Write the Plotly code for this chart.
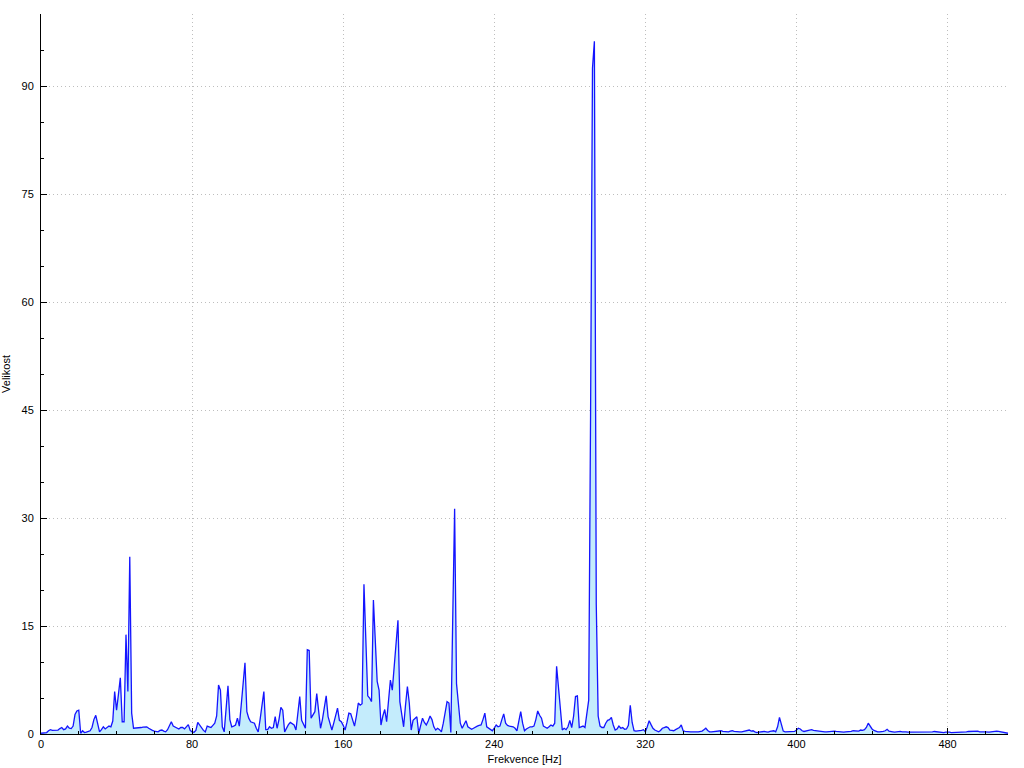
import plotly.graph_objects as go

# Magnitude spectrum, one value per 1 Hz bin (0 .. 512 Hz)
magnitude = [
    0.1, 0.1, 0.15, 0.2, 0.45, 0.6, 0.5, 0.5, 0.5, 0.55,
    0.75, 0.9, 0.6, 0.7, 1.1, 0.8, 0.75, 1.1, 2.7, 3.2,
    3.3, 0.1, 0.45, 0.2, 0.25, 0.3, 0.45, 0.9, 2.0, 2.6,
    1.4, 0.3, 0.6, 1.0, 0.7, 0.9, 1.1, 1.0, 1.8, 5.9,
    3.3, 5.5, 7.8, 1.7, 1.7, 13.8, 5.9, 24.6, 2.9, 0.8,
    0.8, 0.8, 0.9, 0.9, 0.95, 1.0, 1.0, 0.8, 0.6, 0.5,
    0.4, 0.35, 0.3, 0.5, 0.55, 0.4, 0.3, 0.6, 1.2, 1.7,
    1.1, 1.0, 0.8, 0.7, 0.9, 0.9, 0.7, 1.0, 1.3, 0.5,
    0.3, 0.25, 0.5, 1.6, 1.2, 0.8, 0.5, 0.3, 1.1, 1.0,
    0.9, 1.2, 1.5, 2.5, 6.8, 6.1, 1.0, 0.3, 3.2, 6.7,
    2.0, 1.0, 1.1, 1.25, 2.2, 1.1, 4.0, 7.0, 9.9, 3.1,
    2.2, 1.7, 1.6, 1.5, 0.8, 0.3, 2.0, 4.0, 5.9, 0.6,
    0.6, 1.0, 0.8, 0.9, 2.4, 0.8, 2.0, 3.7, 3.3, 0.3,
    0.9, 1.3, 1.6, 1.4, 1.25, 0.55, 2.8, 5.2, 1.9, 1.2,
    0.8, 11.7, 11.6, 2.2, 2.6, 3.1, 5.6, 3.0, 0.8, 2.0,
    3.8, 5.3, 2.4, 1.3, 0.55, 1.5, 2.6, 3.6, 1.9, 1.7,
    1.2, 0.55, 1.6, 2.9, 2.8, 1.8, 1.1, 2.5, 4.3, 4.0,
    4.2, 20.8, 13.0, 5.3, 5.0, 4.5, 18.6, 13.0, 7.3, 6.1,
    1.25, 2.5, 3.4, 1.7, 4.5, 7.5, 6.1, 9.3, 12.6, 15.8,
    4.5, 2.7, 1.0, 4.0, 6.6, 4.3, 0.55, 1.9, 2.2, 2.4,
    0.1, 1.0, 2.2, 1.6, 1.25, 1.8, 2.5, 2.0, 1.0, 0.55,
    0.8, 0.6, 0.3, 1.5, 3.0, 4.5, 4.3, 0.2, 16.0, 31.3,
    7.0, 3.9, 1.5, 0.8, 1.3, 1.85, 1.0, 0.8, 0.65, 0.8,
    1.0, 1.1, 1.2, 1.25, 2.0, 2.9, 1.0, 0.8, 0.65, 0.45,
    0.8, 1.25, 1.0, 1.1, 2.0, 2.8, 1.5, 1.2, 1.1, 1.1,
    1.0, 0.8, 0.45, 1.8, 3.1, 1.5, 0.45, 0.7, 0.9, 1.0,
    1.0, 1.1, 2.0, 3.2, 2.6, 2.2, 1.1, 0.9, 0.8, 1.0,
    1.25, 1.1, 1.5, 9.4, 6.3, 3.3, 0.55, 0.8, 0.6, 1.0,
    1.9, 0.9, 2.5, 5.2, 5.3, 0.9, 1.0, 1.1, 0.9, 2.5,
    4.7, 45.0, 92.5, 96.2, 18.0, 2.5, 1.1, 0.9, 0.9, 1.5,
    1.9, 2.0, 2.3, 1.25, 0.55, 0.7, 1.1, 0.8, 0.9, 0.65,
    0.7, 1.2, 4.0, 1.6, 0.45, 0.4, 0.4, 0.4, 0.5, 0.6,
    0.3, 1.0, 1.85, 1.3, 0.8, 0.55, 0.4, 0.3, 0.5, 0.8,
    0.9, 1.0, 0.9, 0.55, 0.5, 0.45, 0.6, 0.8, 0.9, 1.25,
    0.45, 0.35, 0.3, 0.3, 0.3, 0.3, 0.35, 0.3, 0.3, 0.3,
    0.4, 0.6, 0.8, 0.5, 0.3, 0.3, 0.35, 0.3, 0.35, 0.4,
    0.45, 0.35, 0.3, 0.25, 0.3, 0.4, 0.45, 0.35, 0.3, 0.25,
    0.3, 0.3, 0.35, 0.45, 0.5, 0.55, 0.4, 0.45, 0.3, 0.2,
    0.25, 0.3, 0.3, 0.35, 0.3, 0.25, 0.35, 0.4, 0.45, 0.3,
    1.0, 2.3, 1.5, 0.4, 0.3, 0.3, 0.25, 0.3, 0.3, 0.35,
    0.55, 0.8, 0.7, 0.45, 0.35, 0.4, 0.5, 0.6, 0.6, 0.5,
    0.45, 0.4, 0.35, 0.3, 0.3, 0.3, 0.3, 0.35, 0.35, 0.4,
    0.4, 0.35, 0.3, 0.3, 0.25, 0.25, 0.3, 0.3, 0.3, 0.35,
    0.45, 0.4, 0.35, 0.4, 0.55, 0.5, 0.6, 0.9, 1.5, 1.1,
    0.7, 0.5, 0.35, 0.3, 0.3, 0.3, 0.35, 0.45, 0.65, 0.4,
    0.3, 0.3, 0.25, 0.3, 0.35, 0.35, 0.3, 0.35, 0.3, 0.25,
    0.25, 0.2, 0.2, 0.25, 0.2, 0.2, 0.25, 0.3, 0.25, 0.2,
    0.2, 0.25, 0.3, 0.35, 0.3, 0.25, 0.3, 0.25, 0.2, 0.25,
    0.3, 0.25, 0.2, 0.2, 0.25, 0.25, 0.2, 0.25, 0.3, 0.25,
    0.3, 0.35, 0.35, 0.4, 0.45, 0.45, 0.4, 0.3, 0.25, 0.3,
    0.3, 0.25, 0.25, 0.3, 0.35, 0.4, 0.4, 0.35, 0.3, 0.25,
    0.2, 0.15, 0.1,
]
bin_width_hz = 1
frequency = [i * bin_width_hz for i in range(len(magnitude))]

x_ticks = [0, 80, 160, 240, 320, 400, 480]
y_ticks = [0, 15, 30, 45, 60, 75, 90]
x_title = "Frekvence [Hz]"
y_title = "Velikost"

FONT = "Liberation Sans"

fig = go.Figure()
fig.add_trace(go.Scatter(
    x=frequency, y=magnitude, mode="lines",
    line=dict(color="rgb(20,20,255)", width=1.3, shape="linear"),
    fill="tozeroy", fillcolor="rgb(196,236,252)",
    hoverinfo="skip", showlegend=False,
))

axis_common = dict(
    showline=True, linecolor="black", linewidth=1,
    ticks="inside", ticklen=6, tickcolor="black", tickwidth=1,
    showgrid=True, gridcolor="rgb(190,190,190)", gridwidth=1, griddash="1px,3px",
    zeroline=False, mirror=False,
    tickfont=dict(family=FONT, size=11, color="black"),
)

fig.update_xaxes(
    range=[0, 512], tickmode="array", tickvals=x_ticks,
    ticktext=[str(v) for v in x_ticks],
    minor=dict(dtick=20, tick0=0, ticks="inside", ticklen=3, tickcolor="black", showgrid=False),
    title=dict(text=x_title, font=dict(family=FONT, size=11, color="black"), standoff=6),
    **axis_common,
)
fig.update_yaxes(
    range=[0, 100], tickmode="array", tickvals=y_ticks,
    ticktext=[str(v) for v in y_ticks],
    minor=dict(dtick=5, tick0=0, ticks="inside", ticklen=3, tickcolor="black", showgrid=False),
    title=dict(text=y_title, font=dict(family=FONT, size=11, color="black"), standoff=8),
    ticklabelstandoff=4,
    **axis_common,
)

fig.update_layout(
    width=1024, height=768,
    margin=dict(l=41, r=16, t=14, b=34, autoexpand=False),
    paper_bgcolor="white", plot_bgcolor="white",
    font=dict(family=FONT, size=11, color="black"),
)

fig.write_html(
    "out.html",
    config={"displayModeBar": False, "staticPlot": True},
    post_script="document.body.style.margin='0px';document.body.style.overflow='hidden';",
)
